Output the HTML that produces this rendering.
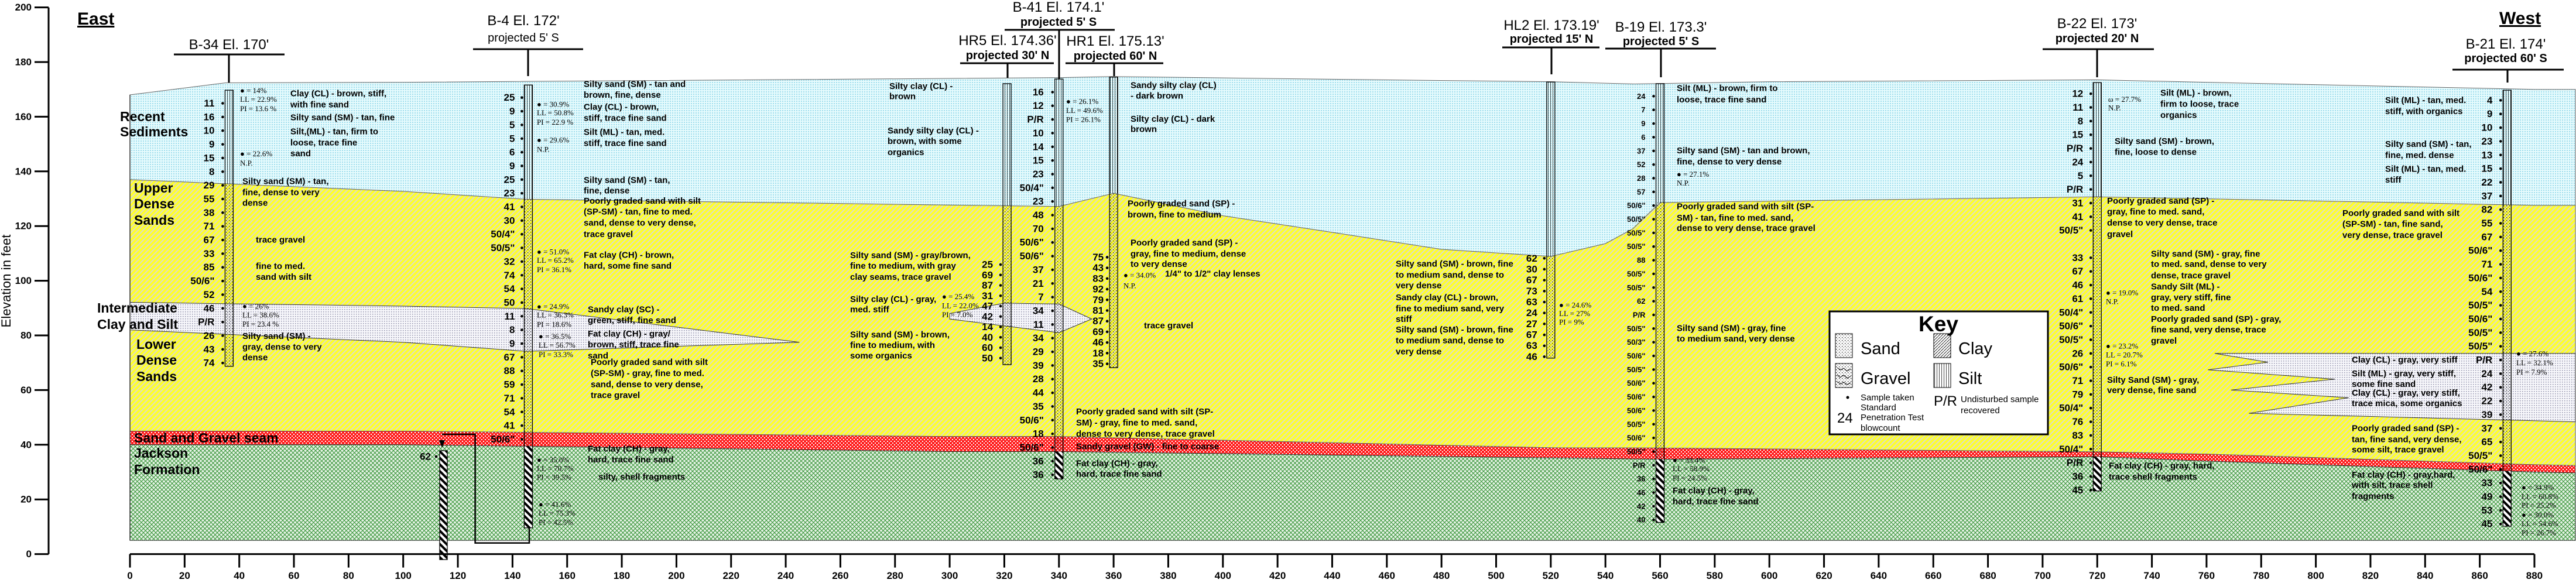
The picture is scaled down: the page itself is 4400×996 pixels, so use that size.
<!DOCTYPE html>
<html><head><meta charset="utf-8">
<style>
html,body{margin:0;padding:0;background:#fff;}
svg{display:block;font-family:"Liberation Sans",Arial,sans-serif;}
.d{font-weight:bold;font-size:15px;fill:#000;}
.s{font-family:"Liberation Serif",serif;font-size:13px;fill:#000;}
.bc{font-weight:bold;fill:#000;}
.hd{font-size:24px;fill:#000;}
.hp{font-size:20px;fill:#000;}
.ll{font-weight:bold;font-size:23px;fill:#000;}
.tk{font-weight:bold;font-size:17px;fill:#000;}
</style></head>
<body>
<svg id="chart" width="4400" height="996" viewBox="0 0 4400 996" xmlns="http://www.w3.org/2000/svg">
<defs>
<pattern id="pRecent" width="4" height="4" patternUnits="userSpaceOnUse"><rect width="4" height="4" fill="#e6fbfd"/><rect width="2" height="2" fill="#9edcec"/></pattern>
<pattern id="pSand" width="6" height="6" patternUnits="userSpaceOnUse" patternTransform="rotate(45)"><rect width="6" height="6" fill="#ffff2a"/><rect width="2" height="6" fill="#dcdcc8"/></pattern>
<pattern id="pClay" width="4" height="4" patternUnits="userSpaceOnUse"><rect width="4" height="4" fill="#f7f7fb"/><rect width="1.5" height="1.5" fill="#8a8aa4"/></pattern>
<pattern id="pGravel" width="6" height="6" patternUnits="userSpaceOnUse"><rect width="6" height="6" fill="#ff1c1c"/><rect width="2" height="2" fill="#fff"/><rect x="3" y="3" width="2" height="2" fill="#fff"/></pattern>
<pattern id="pJack" width="7" height="7" patternUnits="userSpaceOnUse"><rect width="7" height="7" fill="#e6f3e6"/><path d="M0,0L7,7M7,0L0,7" stroke="#2f8f2f" stroke-width="1"/></pattern>
<pattern id="cSilt" width="4" height="4" patternUnits="userSpaceOnUse"><rect width="0.7" height="4" fill="#000"/></pattern>
<pattern id="cSand" width="5" height="5" patternUnits="userSpaceOnUse"><rect x="1" y="1" width="1.3" height="1.3" fill="#000"/><rect x="3.5" y="3.5" width="1" height="1" fill="#000"/></pattern>
<pattern id="cClay" width="5" height="5" patternUnits="userSpaceOnUse"><path d="M0,5L5,0" stroke="#000" stroke-width="0.8"/></pattern>
<pattern id="cFat" width="8" height="8" patternUnits="userSpaceOnUse" patternTransform="rotate(-45)"><rect width="8" height="8" fill="#fff"/><rect width="4" height="8" fill="#000"/></pattern>
</defs>
<g id="layers"></g>
<g id="borings"></g>
<g id="texts"></g>

<g id="yaxis">
  <line x1="83" y1="12.7" x2="83" y2="946.6" stroke="#000" stroke-width="3"/>
</g>
<text transform="translate(18,480) rotate(-90)" text-anchor="middle" font-size="22" textLength="159" lengthAdjust="spacingAndGlyphs">Elevation in feet</text>
<g id="xaxis"></g>

<text x="132" y="42" font-size="30" font-weight="bold" text-decoration="underline">East</text>
<text x="4269" y="41" font-size="30" font-weight="bold" text-decoration="underline">West</text>

<g stroke="#000" stroke-width="3">
  <line x1="297" y1="93" x2="486" y2="93"/><line x1="391" y1="93" x2="391" y2="141"/>
  <line x1="808" y1="84" x2="996" y2="84"/><line x1="902" y1="84" x2="902" y2="130"/>
  <line x1="1640" y1="108" x2="1800" y2="108"/><line x1="1721" y1="108" x2="1721" y2="133"/>
  <line x1="1716" y1="51" x2="1904" y2="51"/><line x1="1809" y1="51" x2="1809" y2="135"/>
  <line x1="1820" y1="108" x2="1987" y2="108"/><line x1="1903" y1="108" x2="1903" y2="130"/>
  <line x1="2566" y1="81" x2="2732" y2="81"/><line x1="2650" y1="81" x2="2650" y2="127"/>
  <line x1="2742" y1="83" x2="2931" y2="83"/><line x1="2837" y1="83" x2="2837" y2="132"/>
  <line x1="3489" y1="84" x2="3679" y2="84"/><line x1="3582" y1="84" x2="3582" y2="132"/>
  <line x1="4189" y1="119" x2="4379" y2="119"/><line x1="4283" y1="119" x2="4283" y2="141"/>
</g>
<g text-anchor="middle">
  <text class="hd" x="391" y="84">B-34 El. 170'</text>
  <text class="hd" x="894" y="43">B-4 El. 172'</text>
  <text class="hp" x="894" y="71">projected 5' S</text>
  <text class="hd" x="1721" y="77">HR5 El. 174.36'</text>
  <text class="hp" x="1721" y="101" font-weight="bold" font-size="18">projected 30' N</text>
  <text class="hd" x="1808" y="20">B-41 El. 174.1'</text>
  <text class="hp" x="1808" y="44" font-weight="bold" font-size="18">projected 5' S</text>
  <text class="hd" x="1905" y="78">HR1 El. 175.13'</text>
  <text class="hp" x="1905" y="102" font-weight="bold" font-size="18">projected 60' N</text>
  <text class="hd" x="2650" y="51">HL2 El. 173.19'</text>
  <text class="hp" x="2650" y="73" font-weight="bold" font-size="18">projected 15' N</text>
  <text class="hd" x="2837" y="54">B-19 El. 173.3'</text>
  <text class="hp" x="2837" y="77" font-weight="bold" font-size="18">projected 5' S</text>
  <text class="hd" x="3582" y="48">B-22 El. 173'</text>
  <text class="hp" x="3582" y="72" font-weight="bold" font-size="18">projected  20' N</text>
  <text class="hd" x="4280" y="83">B-21 El. 174'</text>
  <text class="hp" x="4280" y="106" font-weight="bold" font-size="18">projected 60' S</text>
</g>

<g dominant-baseline="central">
  <text class="ll" x="205" y="199">Recent</text>
  <text class="ll" x="205" y="225">Sediments</text>
  <text class="ll" x="229" y="321">Upper</text>
  <text class="ll" x="229" y="348">Dense</text>
  <text class="ll" x="229" y="376">Sands</text>
  <text class="ll" x="166" y="526">Intermediate</text>
  <text class="ll" x="166" y="554">Clay and Silt</text>
  <text class="ll" x="233" y="588">Lower</text>
  <text class="ll" x="233" y="615">Dense</text>
  <text class="ll" x="233" y="643">Sands</text>
  <text class="ll" x="229" y="748">Sand and Gravel seam</text>
  <text class="ll" x="229" y="774">Jackson</text>
  <text class="ll" x="229" y="802">Formation</text>
</g>

<g>
  <rect x="3125" y="532" width="373" height="210" fill="#fff" stroke="#000" stroke-width="3"/>
  <text x="3311" y="566" text-anchor="middle" font-size="37" font-weight="bold">Key</text>
  <rect x="3135" y="570" width="29" height="41" fill="url(#cSand)" stroke="#000"/>
  <text x="3178" y="605" font-size="29">Sand</text>
  <rect x="3303" y="570" width="29" height="41" fill="url(#cClay)" stroke="#000"/>
  <text x="3345" y="605" font-size="29">Clay</text>
  <rect x="3135" y="621" width="29" height="41" fill="url(#cSand)" stroke="#000"/>
  <path d="M3138,628l6,4l5,-3l6,5l6,-4M3138,640l5,5l6,-4l6,5l6,-3M3138,652l6,4l5,-3l6,4l6,-3" stroke="#000" fill="none"/>
  <text x="3178" y="656" font-size="29">Gravel</text>
  <rect x="3303" y="621" width="29" height="41" fill="url(#cSilt)" stroke="#000"/>
  <text x="3345" y="656" font-size="29">Silt</text>
  <circle cx="3156" cy="679" r="2.5" fill="#000"/>
  <g font-size="15">
    <text x="3178" y="684">Sample taken</text>
    <text x="3178" y="701">Standard</text>
    <text x="3178" y="718">Penetration Test</text>
    <text x="3178" y="736">blowcount</text>
    <text x="3349" y="687">Undisturbed sample</text>
    <text x="3349" y="706">recovered</text>
  </g>
  <text x="3138" y="722" font-size="24">24</text>
  <text x="3303" y="693" font-size="24">P/R</text>
</g>
</svg>

<script>
const X0 = 222, XS = 4.667, Y0 = 946.6, YS = 4.67;
function sx(u){ return X0 + u*XS; }
function sy(e){ return Y0 - e*YS; }

const surfaceX = [0, 35, 100, 300, 340, 360, 440, 520, 550, 600, 720, 760, 880, 895];
const surfaceE = [168, 172.4, 172.6, 174, 174.3, 174.7, 173.7, 172.8, 172, 172.8, 173.5, 172.6, 170, 170];
const sandTopX = [0, 100, 145, 300, 340, 360, 400, 440, 480, 520, 540, 550, 560, 720, 760, 880, 895];
const sandTopE = [137, 132.7, 129.8, 127.7, 127.2, 132, 123.8, 117.7, 111.5, 108.9, 113.6, 119, 128.6, 130.7, 130, 127.6, 127.6];
const clayLX = [0, 100, 145, 245];
const clayLTopE = [92.1, 90.7, 89.8, 77.5];
const clayLBotE = [82, 77.5, 74.2, 77.5];
const lensX = [300, 320, 340, 352];
const lensTopE = [88, 91.8, 91.5, 86];
const lensBotE = [86, 83.5, 81, 86];
const clayRX = [895, 763, 782.5, 760.5, 807, 769, 812, 775.5, 895];
const clayRE = [73.4, 73.4, 70.2, 67.4, 64, 60, 57.2, 51.5, 48.4];
const gravelX = [0, 100, 300, 340, 520, 560, 720, 760, 880, 895];
const gravelTopE = [45, 45, 43, 43, 38.9, 38.8, 37.4, 36.6, 32.7, 32.4];
const gravelBotE = [40, 40, 37.5, 37.5, 35.2, 34.7, 35.6, 34, 30, 29.7];
const baseE = 5;

const boringNames = ["B-34","B-4","HR5","B-41","HR1","HL2","B-19","B-22","B-21"];
const boringX = [36.3, 145.8, 321, 340, 360, 520, 560, 720, 870];
const boringTopE = [169.7, 171.6, 172.1, 173.8, 174.5, 172.7, 172.1, 172.5, 169.7];
const boringBotE = [68.7, 9.6, 69.3, 27.5, 68.2, 71.7, 11.6, 23.1, 10.2];
const firstSampleE = [164.9, 167, 105.9, 169, 108.6, 108.2, 167.5, 168.4, 166];
const sampleStep = [5, 5, 3.8, 5, 3.9, 4, 5, 5, 5];
const blowB34 = ["11","16","10","9","15","8","29","55","38","71","67","33","85","50/6\"","52","46","P/R","26","43","74"];
const blowB4 = ["25","9","5","5","6","9","25","23","41","30","50/4\"","50/5\"","32","74","54","50","11","8","9","67","88","59","71","54","41","50/6\""];
const blowHR5 = ["25","69","87","31","47","42","14","40","60","50"];
const blowB41 = ["16","12","P/R","10","14","15","23","50/4\"","23","48","70","50/6\"","50/6\"","37","21","7","34","11","34","29","39","28","44","35","50/6\"","18","50/6\"","36","36"];
const blowHR1 = ["75","43","83","92","79","81","87","69","46","18","35"];
const blowHL2 = ["62","30","67","73","63","24","27","67","63","46"];
const blowB19 = ["24","7","9","6","37","52","28","57","50/6\"","50/5\"","50/5\"","50/5\"","88","50/5\"","50/5\"","62","P/R","50/5\"","50/3\"","50/6\"","50/5\"","50/6\"","50/6\"","50/6\"","50/5\"","50/6\"","50/5\"","P/R","36","46","42","40"];
const blowB22 = ["12","11","8","15","P/R","24","5","P/R","31","41","50/5\"","","33","67","46","61","50/4\"","50/6\"","50/5\"","26","50/6\"","71","79","50/4\"","76","83","50/4\"","P/R","36","45"];
const blowB21 = ["4","9","10","23","13","15","22","37","82","55","67","50/6\"","71","50/6\"","54","50/5\"","50/6\"","50/5\"","50/5\"","P/R","24","42","22","39","37","65","50/5\"","50/6\"","33","49","53","45"];
const blowSets = [blowB34, blowB4, blowHR5, blowB41, blowHR1, blowHL2, blowB19, blowB22, blowB21];
const blowFont = [17, 17, 17, 17, 17, 17, 13, 17, 17];
const blowOffset = [25, 23, 24, 26, 17, 23, 25, 24, 25];

const xTicks = [0,20,40,60,80,100,120,140,160,180,200,220,240,260,280,300,320,340,360,380,400,420,440,460,480,500,520,540,560,580,600,620,640,660,680,700,720,740,760,780,800,820,840,860,880];
const yTicks = [0,20,40,60,80,100,120,140,160,180,200];

const NS = "http://www.w3.org/2000/svg";
function mk(tag, attrs, parent){
  const el = document.createElementNS(NS, tag);
  for (const k in attrs) el.setAttribute(k, attrs[k]);
  parent.appendChild(el);
  return el;
}
function interp(xs, es, u){
  for (let i = 0; i < xs.length - 1; i++){
    if (u >= xs[i] && u <= xs[i+1]) return es[i] + (es[i+1]-es[i])*(u-xs[i])/(xs[i+1]-xs[i]);
  }
  return u < xs[0] ? es[0] : es[es.length-1];
}
function pts(xs, es){ return xs.map((x,i)=>sx(x).toFixed(1)+","+sy(es[i]).toFixed(1)); }

const L = document.getElementById("layers");
const rightU = 895;

let p = mk("polygon", {points: pts(sandTopX, sandTopE).concat(pts(gravelX, gravelTopE).reverse()).join(" "), fill:"url(#pSand)", stroke:"#666", "stroke-width":1}, L);


p = mk("polygon", {points: pts(surfaceX, surfaceE).concat(pts(sandTopX, sandTopE).reverse()).join(" "), fill:"url(#pRecent)", stroke:"#666", "stroke-width":1}, L);


p = mk("polygon", {points: pts(clayLX, clayLTopE).concat(pts(clayLX, clayLBotE).reverse()).join(" "), fill:"url(#pClay)", stroke:"#333", "stroke-width":1}, L);


p = mk("polygon", {points: pts(lensX, lensTopE).concat(pts(lensX, lensBotE).reverse()).join(" "), fill:"url(#pClay)", stroke:"#333", "stroke-width":1}, L);


p = mk("polygon", {points: pts(clayRX, clayRE).join(" "), fill:"url(#pClay)", stroke:"#333", "stroke-width":1}, L);


p = mk("polygon", {points: pts(gravelX, gravelTopE).concat(pts(gravelX, gravelBotE).reverse()).join(" "), fill:"url(#pGravel)", stroke:"#666", "stroke-width":1}, L);


p = mk("polygon", {points: pts(gravelX, gravelBotE).concat([sx(rightU)+","+sy(baseE), sx(0)+","+sy(baseE)]).join(" "), fill:"url(#pJack)", stroke:"#333", "stroke-width":1}, L);


p = mk("line", {x1:sx(0), y1:sy(surfaceE[0]), x2:sx(0), y2:sy(baseE), stroke:"#333", "stroke-width":1.5}, L);



const B = document.getElementById("borings");
for (let b = 0; b < boringX.length; b++){
  const cx = sx(boringX[b]), w = 14;
  const g = mk("g", {}, B);
  
  
  const u = boringX[b];
  const eSand = interp(sandTopX, sandTopE, u);
  const eGrav = interp(gravelX, gravelBotE, u);
  const segs = [[boringTopE[b], eSand, "url(#cSilt)"], [eSand, eGrav, "url(#cSand)"], [eGrav, -100, "url(#cFat)"]];
  for (const s of segs){
    const top = Math.min(s[0], boringTopE[b]), bot = Math.max(s[1], boringBotE[b]);
    if (top <= bot) continue;
    const r = mk("rect", {x:cx-w/2, y:sy(top), width:w, height:sy(bot)-sy(top), fill:s[2]}, g);
    
    
  }
  const o = mk("rect", {x:cx-w/2, y:sy(boringTopE[b]), width:w, height:sy(boringBotE[b])-sy(boringTopE[b]), fill:"none", stroke:"#000", "stroke-width":1.3}, g);
  
  
  const vals = blowSets[b];
  for (let i = 0; i < vals.length; i++){
    const e = firstSampleE[b] - i*sampleStep[b];
    if (vals[i] === "") continue;
    const dot = mk("circle", {cx:cx-11, cy:sy(e), r:2.3, fill:"#000"}, g);
    
    
    const t = mk("text", {x:cx-blowOffset[b], y:sy(e), "text-anchor":"end", "dominant-baseline":"central", "font-size":blowFont[b], class:"bc"}, g);
    t.textContent = vals[i];
    
    
  }
}
{
  const g = mk("g", {}, B);
  
  
  const r = mk("rect", {x:751, y:770, width:13, height:186, fill:"url(#cFat)", stroke:"#000", "stroke-width":1.3}, g);
  
  
  const pl = mk("polyline", {points:"755,742 811.6,742 811.6,927.6 904,927.6 904,902", fill:"none", stroke:"#000", "stroke-width":2.5}, g);
  
  
  const m = mk("path", {d:"M750,752 L760,752 L755,765 Z", fill:"#000"}, g);
  
  
  const dt = mk("circle", {cx:745, cy:780, r:2.3, fill:"#000"}, g);
  
  
  const t = mk("text", {x:736, y:780, "text-anchor":"end", "dominant-baseline":"central", "font-size":17, class:"bc"}, g);
  t.textContent = "62";
  
  
}

const XA = document.getElementById("xaxis");
let ax = mk("line", {x1:sx(0), y1:Y0, x2:sx(880), y2:Y0, stroke:"#000", "stroke-width":3}, XA);


for (const v of xTicks){
  const tk = mk("line", {x1:sx(v), y1:Y0, x2:sx(v), y2:Y0+23, stroke:"#000", "stroke-width":3}, XA);
  
  
  const t = mk("text", {x:sx(v), y:989, "text-anchor":"middle", class:"tk"}, XA);
  t.textContent = v;
  
  
}
const YA = document.getElementById("yaxis");
for (const v of yTicks){
  const tk = mk("line", {x1:59, y1:sy(v), x2:83, y2:sy(v), stroke:"#000", "stroke-width":3}, YA);
  
  
  const t = mk("text", {x:54, y:sy(v), "text-anchor":"end", "dominant-baseline":"central", class:"tk"}, YA);
  t.textContent = v;
  
  
}

const descs = [
[496,252,"Clay (CL) - brown, stiff,","d"],[496,282,"with fine sand","d"],[496,316,"Silty sand (SM) - tan, fine","d"],
[496,354,"Silt,(ML) - tan, firm to","d"],[496,384,"loose, trace fine","d"],[496,413,"sand","d"],
[410,243,"\u25CF = 14%","s"],[410,267,"LL = 22.9%","s"],[410,292,"PI = 13.6 %","s"],[410,413,"\u25CF = 22.6%","s"],[410,438,"N.P.","s"],
[414,488,"Silty sand (SM) - tan,","d"],[414,518,"fine, dense to very","d"],[414,546,"dense","d"],
[437,645,"trace gravel","d"],[437,716,"fine to med.","d"],[437,745,"sand with silt","d"],
[414,823,"\u25CF = 26%","s"],[414,847,"LL = 38.6%","s"],[414,871,"PI = 23.4 %","s"],
[414,904,"Silty sand (SM) -","d"],[414,933,"gray, dense to very","d"],[414,962,"dense","d"],
[997,227,"Silty sand (SM) - tan and","d"],[997,256,"brown, fine, dense","d"],[997,288,"Clay (CL) - brown,","d"],[997,318,"stiff, trace fine sand","d"],
[997,356,"Silt (ML) - tan, med.","d"],[997,386,"stiff, trace fine sand","d"],[997,485,"Silty sand (SM) - tan,","d"],[997,513,"fine, dense","d"],
[997,541,"Poorly graded sand with silt","d"],[997,570,"(SP-SM) - tan, fine to med.","d"],[997,600,"sand, dense to very dense,","d"],[997,630,"trace gravel","d"],
[997,686,"Fat clay (CH) - brown,","d"],[997,715,"hard, some fine sand","d"],
[1004,833,"Sandy clay (SC) -","d"],[1004,862,"green, stiff, fine sand","d"],[1004,898,"Fat clay (CH) - gray/","d"],[1004,927,"brown, stiff, trace fine","d"],[1004,957,"sand","d"],
[1009,974,"Poorly graded sand with silt","d"],[1009,1004,"(SP-SM) - gray, fine to med.","d"],[1009,1034,"sand, dense to very dense,","d"],[1009,1063,"trace gravel","d"],
[1004,1207,"Fat clay (CH) - gray,","d"],[1004,1236,"hard, trace fine sand","d"],[1022,1283,"silty, shell fragments","d"],
[917,280,"\u25CF = 30.9%","s"],[917,303,"LL = 50.8%","s"],[917,328,"PI = 22.9 %","s"],[917,376,"\u25CF = 29.6%","s"],[917,401,"N.P.","s"],
[917,677,"\u25CF = 51.0%","s"],[917,700,"LL = 65.2%","s"],[917,725,"PI = 36.1%","s"],[917,824,"\u25CF = 24.9%","s"],[917,847,"LL = 36.3%","s"],[917,872,"PI = 18.6%","s"],
[920,904,"\u25CF = 36.5%","s"],[920,928,"LL = 56.7%","s"],[920,953,"PI = 33.3%","s"],[917,1236,"\u25CF = 35.0%","s"],[917,1259,"LL = 70.7%","s"],[917,1283,"PI = 39.5%","s"],
[920,1356,"\u25CF = 41.6%","s"],[920,1380,"LL = 75.3%","s"],[920,1404,"PI = 42.5%","s"],
[1519,232,"Silty clay (CL) -","d"],[1519,260,"brown","d"],[1516,352,"Sandy silty clay (CL) -","d"],[1516,380,"brown, with some","d"],[1516,410,"organics","d"],
[1452,687,"Silty sand (SM) - gray/brown,","d"],[1452,715,"fine to medium, with gray","d"],[1452,745,"clay seams, trace gravel","d"],
[1452,805,"Silty clay (CL) - gray,","d"],[1452,833,"med. stiff","d"],[1452,900,"Silty sand (SM) - brown,","d"],[1452,929,"fine to medium, with","d"],[1452,957,"some organics","d"],
[1609,797,"\u25CF = 25.4%","s"],[1609,822,"LL = 22.0%","s"],[1609,846,"PI = 7.0%","s"],
[1821,272,"\u25CF = 26.1%","s"],[1821,297,"LL = 49.6%","s"],[1821,321,"PI = 26.1%","s"],
[1931,230,"Sandy silty clay (CL)","d"],[1931,258,"- dark brown","d"],[1931,320,"Silty clay (CL) - dark","d"],[1931,348,"brown","d"],
[1926,548,"Poorly graded sand (SP) -","d"],[1926,578,"brown, fine to medium","d"],
[1931,653,"Poorly graded sand (SP) -","d"],[1931,683,"gray, fine to medium, dense","d"],[1931,711,"to very dense","d"],[1990,737,"1/4\" to 1/2\" clay lenses","d"],
[1919,740,"\u25CF = 34.0%","s"],[1919,768,"N.P.","s"],[1954,876,"trace gravel","d"],
[1838,1107,"Poorly graded sand with silt (SP-","d"],[1838,1137,"SM) - gray, fine to med. sand,","d"],[1838,1167,"dense to very dense, trace gravel","d"],
[1838,1201,"Sandy gravel (GW) - fine to coarse","d"],[1838,1247,"Fat clay (CH) - gray,","d"],[1838,1275,"hard, trace fine sand","d"],
[2384,710,"Silty sand (SM) - brown, fine","d"],[2384,740,"to medium sand, dense to","d"],[2384,768,"very dense","d"],
[2384,800,"Sandy clay (CL) - brown,","d"],[2384,830,"fine to medium sand, very","d"],[2384,859,"stiff","d"],
[2384,887,"Silty sand (SM) - brown, fine","d"],[2384,916,"to medium sand, dense to","d"],[2384,946,"very dense","d"],
[2663,820,"\u25CF = 24.6%","s"],[2663,843,"LL = 27%","s"],[2663,866,"PI = 9%","s"],
[2864,238,"Silt (ML) - brown, firm to","d"],[2864,268,"loose, trace fine sand","d"],[2864,405,"Silty sand (SM) - tan and brown,","d"],[2864,435,"fine, dense to very dense","d"],
[2864,468,"\u25CF = 27.1%","s"],[2864,492,"N.P.","s"],
[2864,556,"Poorly graded sand with silt (SP-","d"],[2864,586,"SM) - tan, fine to med. sand,","d"],[2864,614,"dense to very dense, trace gravel","d"],
[2864,883,"Silty sand (SM) - gray, fine","d"],[2864,911,"to medium sand, very dense","d"],
[2857,1237,"\u25CF = 33.4%","s"],[2857,1260,"LL = 58.9%","s"],[2857,1285,"PI = 24.5%","s"],[2857,1320,"Fat clay (CH) - gray,","d"],[2857,1349,"hard, trace fine sand","d"],
[3601,267,"\u03C9 = 27.7%","s"],[3601,290,"N.P.","s"],[3597,787,"\u25CF = 19.0%","s"],[3597,811,"N.P.","s"],
[3597,930,"\u25CF = 23.2%","s"],[3597,954,"LL = 20.7%","s"],[3597,978,"PI = 6.1%","s"],
[3690,250,"Silt (ML) - brown,","d"],[3690,280,"firm to loose, trace","d"],[3690,310,"organics","d"],
[3612,380,"Silty sand (SM) - brown,","d"],[3612,409,"fine, loose to dense","d"],
[3599,541,"Poorly graded sand (SP) -","d"],[3599,570,"gray, fine to med. sand,","d"],[3599,600,"dense to very dense, trace","d"],[3599,630,"gravel","d"],
[3674,683,"Silty sand (SM) - gray, fine","d"],[3674,711,"to med. sand, dense to very","d"],[3674,741,"dense, trace gravel","d"],
[3674,771,"Sandy Silt (ML) -","d"],[3674,800,"gray, very stiff, fine","d"],[3674,829,"to med. sand","d"],
[3674,859,"Poorly graded sand (SP) - gray,","d"],[3674,887,"fine sand, very dense, trace","d"],[3674,917,"gravel","d"],
[3599,1022,"Silty Sand (SM) - gray,","d"],[3599,1050,"very dense, fine sand","d"],
[3602,1253,"Fat clay (CH) - gray, hard,","d"],[3602,1283,"trace shell fragments","d"],
[4074,270,"Silt (ML) - tan, med.","d"],[4074,300,"stiff, with organics","d"],[4074,388,"Silty sand (SM) - tan,","d"],[4074,418,"fine, med. dense","d"],
[4074,455,"Silt (ML) - tan, med.","d"],[4074,484,"stiff","d"],
[4001,574,"Poorly graded sand with silt","d"],[4001,603,"(SP-SM) - tan, fine sand,","d"],[4001,633,"very dense, trace gravel","d"],
[4017,968,"Clay (CL) - gray, very stiff","d"],[4017,1005,"Silt (ML) - gray, very stiff,","d"],[4017,1033,"some fine sand","d"],
[4017,1057,"Clay (CL) - gray, very stiff,","d"],[4017,1085,"trace mica, some organics","d"],
[4017,1152,"Poorly graded sand (SP) -","d"],[4017,1182,"tan, fine sand, very dense,","d"],[4017,1210,"some silt, trace gravel","d"],
[4017,1277,"Fat clay (CH) - gray,hard,","d"],[4017,1305,"with silt, trace shell","d"],[4017,1335,"fragments","d"],
[4298,951,"\u25CF = 27.6%","s"],[4298,975,"LL = 32.1%","s"],[4298,1000,"PI = 7.9%","s"],
[4307,1310,"\u25CF = 34.9%","s"],[4307,1335,"LL = 60.8%","s"],[4307,1358,"PI = 25.2%","s"],
[4307,1384,"\u25CF = 30.0%","s"],[4307,1408,"LL = 54.6%","s"],[4307,1432,"PI = 26.7%","s"]
];
const T = document.getElementById("texts");
for (const d of descs){
  const t = mk("text", {x:d[0], y:(d[1]/1.574).toFixed(1), "dominant-baseline":"central", class:d[3]}, T);
  t.textContent = d[2];
  
  
}
</script>
</body></html>
